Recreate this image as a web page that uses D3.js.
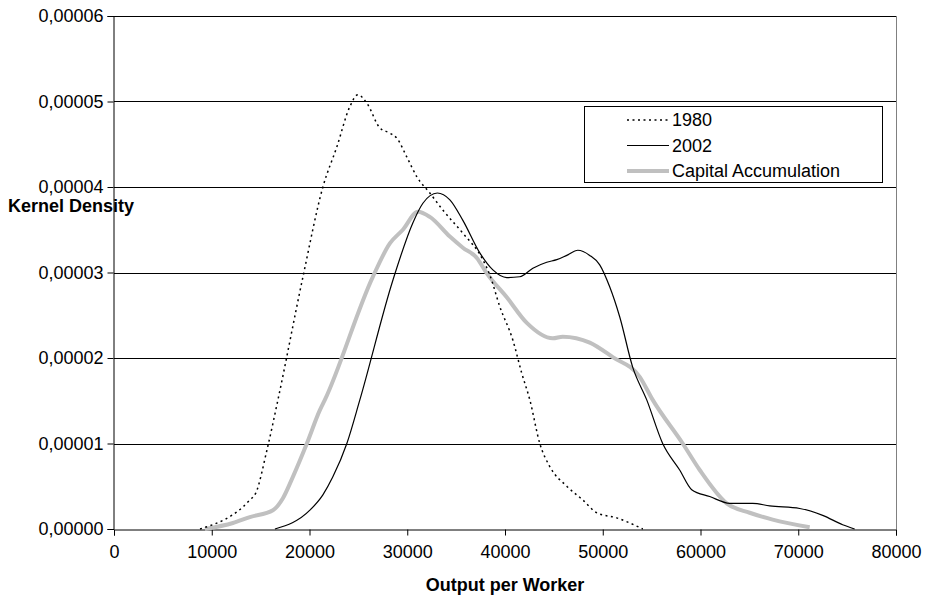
<!DOCTYPE html>
<html>
<head>
<meta charset="utf-8">
<script src="https://cdn.jsdelivr.net/npm/d3@7"></script>
<style>
  body { margin: 0; background: #fff; }
  text { font-family: Arial, "Liberation Sans", sans-serif; }
</style>
</head>
<body>
<div id="my_dataviz"></div>
<script>
// Values; density in units of 0.00001
const xTicks = [0, 10000, 20000, 30000, 40000, 50000, 60000, 70000, 80000];
const yTicks = [0, 1, 2, 3, 4, 5, 6];
const yTickLabels = ["0,00000", "0,00001", "0,00002", "0,00003", "0,00004", "0,00005", "0,00006"];
const seriesNames = ["1980", "2002", "Capital Accumulation"];

const x1980 = [8800, 13900, 14500, 15640, 16770, 19330, 21370, 22800, 24130, 24950, 25870, 27200, 28220, 28940, 29960, 30980, 32310, 33640, 35690, 37730, 38450, 39470, 40800, 41720, 42540, 43560, 44580, 46320, 47960, 49380, 51430, 54100];
const y1980 = [0, 0.34, 0.42, 0.92, 1.51, 2.95, 4.0, 4.47, 4.94, 5.08, 4.98, 4.69, 4.63, 4.57, 4.35, 4.12, 3.93, 3.73, 3.46, 3.15, 2.97, 2.6, 2.21, 1.82, 1.51, 1.0, 0.73, 0.5, 0.34, 0.19, 0.13, 0];

const x2002 = [16460, 20040, 21370, 22390, 23820, 25150, 28530, 30570, 31600, 33080, 34360, 35690, 37420, 38760, 40180, 41510, 42850, 44270, 45300, 46320, 47450, 48670, 49690, 50720, 51740, 53070, 54500, 56130, 57870, 59100, 60940, 62990, 65340, 67080, 70150, 72500, 74540, 75770];
const y2002 = [0, 0.22, 0.40, 0.61, 1.0, 1.51, 2.91, 3.58, 3.81, 3.93, 3.85, 3.61, 3.23, 3.03, 2.94, 2.95, 3.05, 3.12, 3.15, 3.2, 3.26, 3.2, 3.09, 2.83, 2.48, 1.89, 1.51, 1.0, 0.69, 0.46, 0.38, 0.3, 0.3, 0.27, 0.24, 0.16, 0.05, 0];

const xCap = [9300, 12170, 13900, 16260, 17280, 18300, 19730, 21060, 21570, 26480, 28220, 29550, 31090, 32310, 34360, 35690, 37120, 38140, 40180, 42230, 44890, 45910, 48670, 51020, 53780, 55110, 58180, 59920, 62680, 65030, 67380, 71170];
const yCap = [0, 0.07, 0.14, 0.22, 0.36, 0.61, 1.0, 1.39, 1.51, 2.95, 3.34, 3.5, 3.71, 3.65, 3.42, 3.29, 3.17, 2.99, 2.71, 2.41, 2.23, 2.25, 2.18, 2.01, 1.78, 1.51, 1.0, 0.69, 0.3, 0.19, 0.11, 0.02];

const margin = { top: 16, right: 32, bottom: 69, left: 114 };
const W = 928, H = 598;
const width = W - margin.left - margin.right;
const height = H - margin.top - margin.bottom;

const svg = d3.select("#my_dataviz")
  .append("svg")
    .attr("width", W)
    .attr("height", H)
  .append("g")
    .attr("transform", `translate(${margin.left},${margin.top})`);

const x = d3.scaleLinear().domain([0, 80000]).range([0, width]);
const y = d3.scaleLinear().domain([0, 6]).range([height, 0]);

// gridlines
svg.append("g")
  .selectAll("line")
  .data(yTicks.filter(d => d > 0))
  .join("line")
    .attr("x1", 0).attr("x2", width)
    .attr("y1", d => Math.round(y(d)) + 0.5)
    .attr("y2", d => Math.round(y(d)) + 0.5)
    .attr("stroke", "#000");

// plot border on the right
svg.append("line")
  .attr("x1", width + 0.5).attr("x2", width + 0.5)
  .attr("y1", 0).attr("y2", height)
  .attr("stroke", "#808080");

// X axis
const xAxis = svg.append("g")
  .attr("transform", `translate(0, ${height + 0.5})`)
  .call(d3.axisBottom(x).tickValues(xTicks).tickSize(6).tickPadding(10).tickFormat(d => d));
xAxis.select(".domain").attr("stroke", "#000");
xAxis.selectAll("text").style("font-size", "18px").attr("fill", "#000");

// Y axis
const yAxis = svg.append("g")
  .attr("transform", "translate(-0.5, 0)")
  .call(d3.axisLeft(y).tickValues(yTicks).tickSize(6).tickPadding(4).tickFormat((d, i) => yTickLabels[i]));
yAxis.select(".domain").attr("stroke", "#000");
yAxis.selectAll("text").style("font-size", "18px").attr("fill", "#000");

// axis titles
svg.append("text")
  .attr("x", -margin.left + 8)
  .attr("y", 196)
  .style("font-size", "18px")
  .style("font-weight", "bold")
  .text("Kernel Density");

svg.append("text")
  .attr("x", width / 2)
  .attr("y", height + 62)
  .attr("text-anchor", "middle")
  .style("font-size", "18px")
  .style("font-weight", "bold")
  .text("Output per Worker");

// Lines
const line = d3.line()
  .x(d => x(d[0]))
  .y(d => y(d[1]))
  .curve(d3.curveMonotoneX);

const styles = [
  { stroke: "#000", width: 1.5, dash: "2,3.5" },
  { stroke: "#000", width: 1.2, dash: null },
  { stroke: "#c0c0c0", width: 4, dash: null }
];
const series = [
  d3.zip(x1980, y1980),
  d3.zip(x2002, y2002),
  d3.zip(xCap, yCap)
];

// draw the gray one first so the black lines sit on top
[2, 1, 0].forEach(i => {
  svg.append("path")
    .datum(series[i])
    .attr("fill", "none")
    .attr("stroke", styles[i].stroke)
    .attr("stroke-width", styles[i].width)
    .attr("stroke-dasharray", styles[i].dash)
    .attr("stroke-linejoin", "round")
    .attr("d", line);
});

// Legend
const legend = svg.append("g")
  .attr("transform", `translate(${584 - margin.left}, ${106 - margin.top})`);

legend.append("rect")
  .attr("x", 0.5).attr("y", 0.5)
  .attr("width", 298).attr("height", 76)
  .attr("fill", "#fff")
  .attr("stroke", "#000");

const rows = legend.selectAll("g.row")
  .data(seriesNames)
  .join("g")
    .attr("class", "row")
    .attr("transform", (d, i) => `translate(0, ${14 + i * 25.5})`);

rows.append("line")
  .attr("x1", 43).attr("x2", 85)
  .attr("y1", 0).attr("y2", 0)
  .attr("stroke", (d, i) => styles[i].stroke)
  .attr("stroke-width", (d, i) => styles[i].width)
  .attr("stroke-dasharray", (d, i) => styles[i].dash);

rows.append("text")
  .attr("x", 88)
  .attr("dy", "0.35em")
  .style("font-size", "18px")
  .text(d => d);
</script>
</body>
</html>
